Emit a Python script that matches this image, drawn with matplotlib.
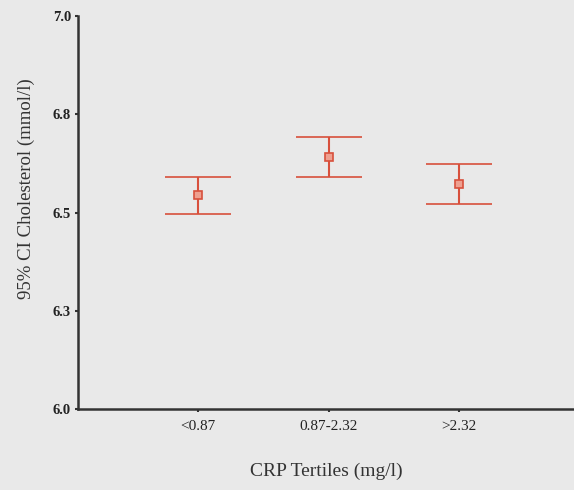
import matplotlib
matplotlib.use("Agg")
import matplotlib.pyplot as plt
import numpy as np

# CRP tertiles and cholesterol means with 95% CI bounds (mmol/l)
groups = ["<0.87", "0.87-2.32", ">2.32"]
means = [6.545, 6.641, 6.573]
ci_lower = [6.496, 6.590, 6.522]
ci_upper = [6.590, 6.692, 6.623]

yticks = [6.0, 6.25, 6.5, 6.75, 7.0]
ytick_labels = ["6.0", "6.3", "6.5", "6.8", "7.0"]

plt.rcParams["font.family"] = ["Liberation Serif", "DejaVu Serif"]

bg = "#e9e9e9"
red = "#d8503c"

fig = plt.figure(figsize=(5.74, 4.9), dpi=100, facecolor=bg)
ax = fig.add_axes([0.136, 0.165, 0.864, 0.802], facecolor=bg)

x = np.arange(1, len(groups) + 1)
means = np.array(means)
err = [means - np.array(ci_lower), np.array(ci_upper) - means]
ax.errorbar(x, means, yerr=err, fmt="s", color=red, ecolor=red,
            elinewidth=1.5, capsize=24, capthick=1.5,
            markersize=6, markerfacecolor="#eea090", markeredgecolor=red,
            markeredgewidth=1.2)

ax.set_xlim(0.08, 3.88)
ax.set_ylim(6.0, 7.0)
ax.set_xticks(x)
ax.set_xticklabels(groups)
ax.set_yticks(yticks)
ax.set_yticklabels(ytick_labels)

for s in ["top", "right"]:
    ax.spines[s].set_visible(False)
for s in ["left", "bottom"]:
    ax.spines[s].set_color("#333333")
    ax.spines[s].set_linewidth(1.8)

ax.tick_params(axis="both", length=2, width=1.5, color="#333333",
               labelcolor="#222222")
ax.tick_params(axis="x", pad=6, labelsize=11)
ax.tick_params(axis="y", pad=3, labelsize=10.5)
for lbl in ax.get_yticklabels():
    lbl.set_fontweight("bold")

ax.set_ylabel("95% CI Cholesterol (mmol/l)", fontsize=13.5, color="#333333")
ax.yaxis.set_label_coords(-0.087, 0.562)
ax.set_xlabel("CRP Tertiles (mg/l)", fontsize=14, color="#333333")
ax.xaxis.set_label_coords(0.5, -0.135)

fig.savefig("out.png", dpi=100, facecolor=bg)
